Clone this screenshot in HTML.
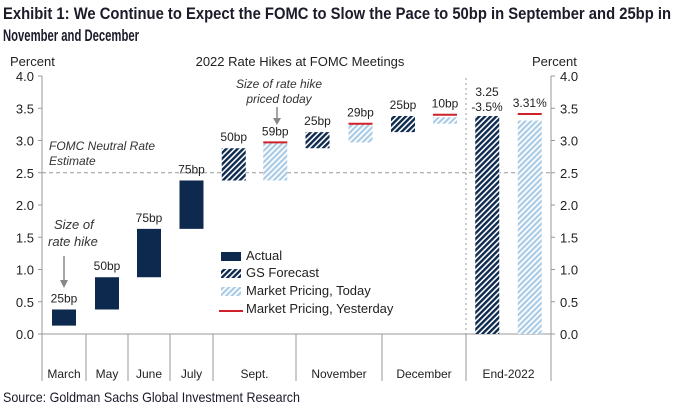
<!DOCTYPE html>
<html><head><meta charset="utf-8"><style>
html,body{margin:0;padding:0;background:#fff;}
svg{display:block;font-family:"Liberation Sans",sans-serif;}
</style></head><body>
<svg id="chart" width="679" height="411" viewBox="0 0 679 411">
<defs>
<pattern id="hatchDark" patternUnits="userSpaceOnUse" width="4" height="4" patternTransform="rotate(45)">
<rect width="4" height="4" fill="#fff"/><rect width="2.4" height="4" fill="#0d2a4e"/></pattern>
<pattern id="hatchLight" patternUnits="userSpaceOnUse" width="4" height="4" patternTransform="rotate(45)">
<rect width="4" height="4" fill="#fff"/><rect width="2.2" height="4" fill="#a9cbe6"/></pattern>
</defs>
<g font-family="'Liberation Sans Narrow','Liberation Sans',sans-serif" font-weight="bold" font-size="17" fill="#1b1b2a">
<text x="3" y="19" textLength="668" lengthAdjust="spacingAndGlyphs">Exhibit 1: We Continue to Expect the FOMC to Slow the Pace to 50bp in September and 25bp in</text>
<text x="3" y="41" textLength="136" lengthAdjust="spacingAndGlyphs">November and December</text>
</g>
<text x="300" y="66" text-anchor="middle" font-size="13" fill="#222">2022 Rate Hikes at FOMC Meetings</text>
<text x="10" y="66" font-size="13" fill="#222">Percent</text>
<text x="532" y="66" font-size="13" fill="#222">Percent</text>
<g id="axes"></g>
<g id="bars"></g>
<g id="annot" font-size="12" fill="#222">
<text x="49" y="150" font-style="italic" fill="#333">FOMC Neutral Rate</text>
<text x="49" y="165" font-style="italic" fill="#333">Estimate</text>
<text x="54" y="229" font-style="italic" fill="#333" font-size="13">Size of</text>
<text x="48" y="246" font-style="italic" fill="#333" font-size="13">rate hike</text>
<line x1="64" y1="256" x2="64" y2="283" stroke="#888" stroke-width="1.5"/>
<polygon points="60,280 68,280 64,288" fill="#888"/>
<text x="279" y="88" text-anchor="middle" font-style="italic" fill="#333">Size of rate hike</text>
<text x="279" y="103" text-anchor="middle" font-style="italic" fill="#333">priced today</text>
<line x1="277" y1="107" x2="277" y2="120" stroke="#888" stroke-width="1.5"/>
<polygon points="273,118 281,118 277,125" fill="#888"/>
<text x="487" y="96" text-anchor="middle">3.25</text>
<text x="487" y="111" text-anchor="middle">-3.5%</text>
</g>
<g id="legend" font-size="13" fill="#222">
<rect x="221" y="252" width="20" height="9" fill="#0d2a4e"/>
<text x="246" y="260">Actual</text>
<rect x="221" y="269" width="20" height="9" fill="url(#hatchDark)"/>
<text x="246" y="277">GS Forecast</text>
<rect x="221" y="287" width="20" height="9" fill="url(#hatchLight)"/>
<text x="246" y="295">Market Pricing, Today</text>
<line x1="219" y1="311" x2="243" y2="311" stroke="#d0202a" stroke-width="2"/>
<text x="246" y="313">Market Pricing, Yesterday</text>
</g>
<text x="3" y="402" font-family="'Liberation Sans Narrow','Liberation Sans',sans-serif" font-size="14" fill="#1b1b2a" textLength="297" lengthAdjust="spacingAndGlyphs">Source: Goldman Sachs Global Investment Research</text>
<script>
const categories=["March","May","June","July","Sept.","November","December","End-2022"];
const catBounds=[42,86,128,170,213,296,382,466,551];
const yTicks=[0,0.5,1,1.5,2,2.5,3,3.5,4];
const yTickLabels=["0.0","0.5","1.0","1.5","2.0","2.5","3.0","3.5","4.0"];
const actualBase=[0.13,0.38,0.88,1.63];
const actualTop=[0.38,0.88,1.63,2.38];
const actualLabels=["25bp","50bp","75bp","75bp"];
const gsCats=[4,5,6,7];
const gsBase=[2.38,2.88,3.13,0];
const gsTop=[2.88,3.13,3.38,3.38];
const gsLabels=["50bp","25bp","25bp",""];
const mktCats=[4,5,6,7];
const mktBase=[2.38,2.97,3.26,0];
const mktTop=[2.97,3.26,3.36,3.31];
const mktYesterday=[2.97,3.26,3.40,3.41];
const mktLabels=["59bp","29bp","10bp","3.31%"];
const neutralRate=2.5;

const NS="http://www.w3.org/2000/svg";
const y=v=>334-v*64.5;
function el(tag,attrs,parent){const e=document.createElementNS(NS,tag);for(const k in attrs)e.setAttribute(k,attrs[k]);parent.appendChild(e);return e;}
const ax=document.getElementById('axes'),bars=document.getElementById('bars');
let a=el('line',{x1:42,y1:76,x2:42,y2:334,stroke:'#999'},ax);


a=el('line',{x1:551,y1:76,x2:551,y2:334,stroke:'#999'},ax);


a=el('line',{x1:42,y1:334,x2:551,y2:334,stroke:'#999'},ax);


yTicks.forEach((t,i)=>{
 el('line',{x1:38,y1:y(t),x2:42,y2:y(t),stroke:'#999'},ax);
 el('line',{x1:551,y1:y(t),x2:555,y2:y(t),stroke:'#999'},ax);
 let tl=el('text',{x:34,y:y(t)+5,'text-anchor':'end','font-size':13,fill:'#222'},ax);tl.textContent=yTickLabels[i];
 
 
 let tr=el('text',{x:560,y:y(t)+5,'font-size':13,fill:'#222'},ax);tr.textContent=yTickLabels[i];
 
 
});
catBounds.forEach(b=>el('line',{x1:b,y1:334,x2:b,y2:381,stroke:'#999'},ax));
categories.forEach((c,i)=>{
 let t=el('text',{x:(catBounds[i]+catBounds[i+1])/2,y:378,'text-anchor':'middle','font-size':12,fill:'#222'},ax);t.textContent=c;
 
 
});
let nl=el('line',{x1:42,y1:y(neutralRate),x2:551,y2:y(neutralRate),stroke:'#999','stroke-dasharray':'4,3'},ax);


let vl=el('line',{x1:466,y1:78,x2:466,y2:334,stroke:'#999','stroke-dasharray':'2,3'},ax);


function lbl(x,v,txt){let t=el('text',{x:x,y:y(v)-7,'text-anchor':'middle','font-size':12,fill:'#222'},bars);t.textContent=txt;
 
 }
const W=24;
actualTop.forEach((v,i)=>{
 const cx=(catBounds[i]+catBounds[i+1])/2;
 let r=el('rect',{x:cx-W/2,y:y(v),width:W,height:y(actualBase[i])-y(v),fill:'#0d2a4e'},bars);
 
 
 lbl(cx,v,actualLabels[i]);
});
function slotX(c,s){const l=catBounds[c],r=catBounds[c+1],w=r-l;return l+w*(s?0.75:0.25);}
gsCats.forEach((c,i)=>{
 const cx=slotX(c,0);
 let r=el('rect',{x:cx-W/2,y:y(gsTop[i]),width:W,height:y(gsBase[i])-y(gsTop[i]),fill:'url(#hatchDark)'},bars);
 
 
 if(gsLabels[i])lbl(cx,gsTop[i],gsLabels[i]);
});
mktCats.forEach((c,i)=>{
 const cx=slotX(c,1);
 let r=el('rect',{x:cx-W/2,y:y(mktTop[i]),width:W,height:y(mktBase[i])-y(mktTop[i]),fill:'url(#hatchLight)'},bars);
 
 
 let ln=el('line',{x1:cx-W/2,y1:y(mktYesterday[i]),x2:cx+W/2,y2:y(mktYesterday[i]),stroke:'#d0202a','stroke-width':2},bars);
 
 
 lbl(cx,mktYesterday[i],mktLabels[i]);
});
</script>
</svg>
</body></html>
